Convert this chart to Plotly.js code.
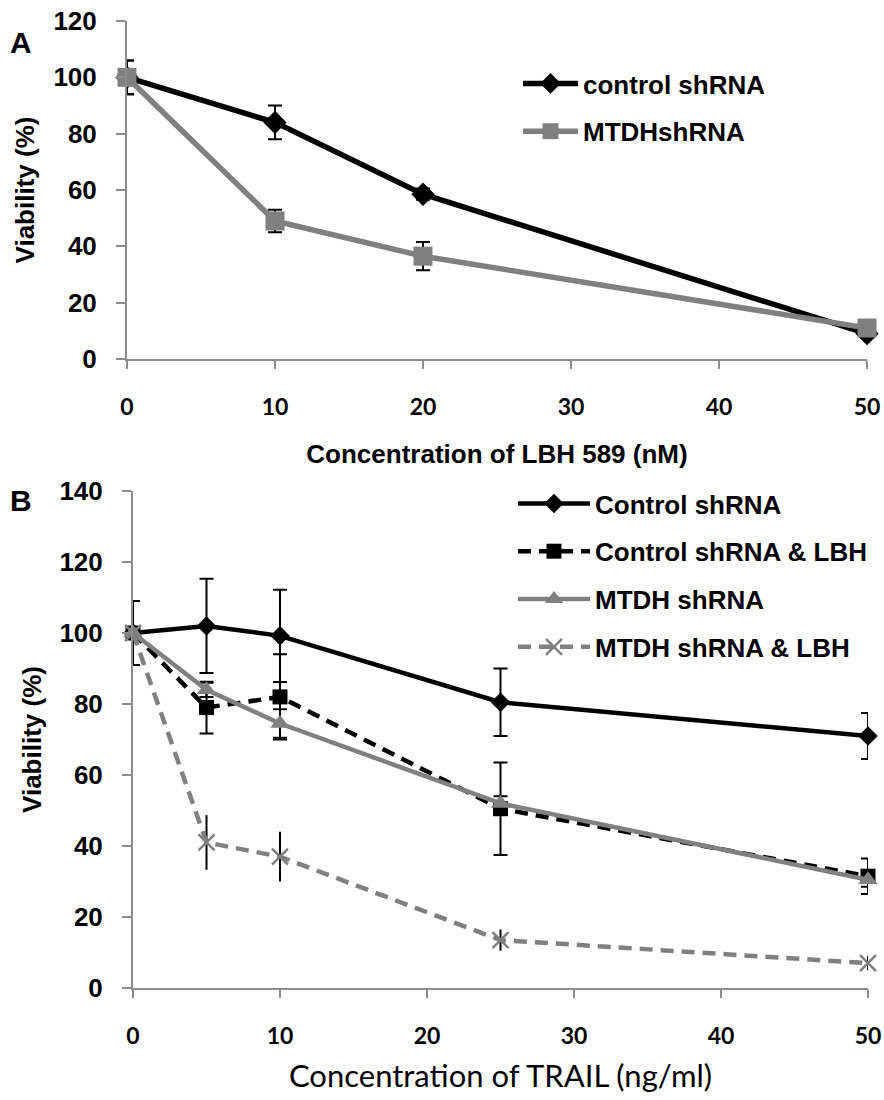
<!DOCTYPE html>
<html>
<head>
<meta charset="utf-8">
<script src="https://cdn.plot.ly/plotly-3.0.1.min.js"></script>
<style>html,body{margin:0;padding:0;background:#fff;}#chart{width:884px;height:1100px;}</style>
</head>
<body>
<div id="chart"></div>
<script>
// Panel A data
const concA = [0, 10, 20, 50];
const ctrlA = [100, 84, 58.5, 9];
const ctrlAErr = [6, 6, 2, 1];
const mtdhA = [100, 49, 36.5, 11];
const mtdhAErr = [6, 4, 5, 1];

// Panel B data
const concB = [0, 5, 10, 25, 50];
const ctrlB = [100, 102, 99.2, 80.5, 71];
const ctrlBErr = [9, 13.3, 13, 9.5, 6.5];
const ctrlLbhB = [100, 79, 82, 50.5, 31.5];
const ctrlLbhBErr = [0, 7.3, 12, 13, 5];
const mtdhB = [100, 84, 74.5, 52, 30.5];
const mtdhBErr = [0, 2, 4, 2, 2];
const mtdhLbhB = [100, 41, 37, 13.5, 7];
const mtdhLbhBErr = [0, 7.7, 7, 3, 2];

const namesA = ['control shRNA', 'MTDHshRNA'];
const namesB = ['Control shRNA', 'Control shRNA &amp; LBH', 'MTDH shRNA', 'MTDH shRNA &amp; LBH'];
const ticksX = [0, 10, 20, 30, 40, 50];
const yticksA = [0, 20, 40, 60, 80, 100, 120];
const yticksB = [0, 20, 40, 60, 80, 100, 120, 140];

const BLACK = '#000000';
const GRAY = '#808080';
const AX = '#8c8c8c';
const ARIAL = 'Liberation Sans, Arial, sans-serif';
const arialB = {family: ARIAL, size: 26, color: '#000', weight: 'bold'};
const latoB = {family: 'Lato, sans-serif', size: 23, color: '#000', weight: 'bold'};

function eb(arr, w) {
  return {type: 'data', array: arr, visible: true, color: BLACK, thickness: 2, width: w};
}

const traces = [
  {x: concA, y: ctrlA, name: namesA[0], mode: 'lines+markers', xaxis: 'x', yaxis: 'y', legend: 'legend', legendgroup: 'a1',
   line: {color: BLACK, width: 5.5}, marker: {symbol: 'diamond', size: 18, color: BLACK}, error_y: eb(ctrlAErr, 7), cliponaxis: false},
  {x: concA, y: mtdhA, name: namesA[1], mode: 'lines+markers', xaxis: 'x', yaxis: 'y', legend: 'legend', legendgroup: 'a2',
   line: {color: GRAY, width: 5.5}, marker: {symbol: 'square', size: 19, color: GRAY}, error_y: eb(mtdhAErr, 7), cliponaxis: false},
  {x: concB, y: ctrlB, name: namesB[0], mode: 'lines+markers', xaxis: 'x2', yaxis: 'y2', legend: 'legend2', legendgroup: 'b1',
   line: {color: BLACK, width: 4.5}, marker: {symbol: 'diamond', size: 15, color: BLACK}, error_y: eb(ctrlBErr, 7), cliponaxis: false},
  {x: concB, y: ctrlLbhB, name: namesB[1], mode: 'lines+markers', xaxis: 'x2', yaxis: 'y2', legend: 'legend2', legendgroup: 'b2',
   line: {color: BLACK, width: 4.5, dash: '13px,8px'}, marker: {symbol: 'square', size: 15, color: BLACK}, error_y: eb(ctrlLbhBErr, 7), cliponaxis: false},
  {x: concB, y: mtdhB, name: namesB[2], mode: 'lines+markers', xaxis: 'x2', yaxis: 'y2', legend: 'legend2', legendgroup: 'b3',
   line: {color: GRAY, width: 4.5}, marker: {symbol: 'triangle-up', size: 17, color: GRAY}, error_y: eb(mtdhBErr, 7), cliponaxis: false},
  {x: concB, y: mtdhLbhB, name: namesB[3], mode: 'lines+markers', xaxis: 'x2', yaxis: 'y2', legend: 'legend2', legendgroup: 'b4',
   line: {color: GRAY, width: 4.5, dash: '13px,8px'}, marker: {symbol: 'x-thin-open', size: 16, color: GRAY, line: {color: GRAY, width: 2.5}}, error_y: eb(mtdhLbhBErr, 0), cliponaxis: false}
];

function xaxisCfg(domain, anchor, title, tfont, standoff) {
  return {domain: domain, anchor: anchor, range: [0, 50], tickvals: ticksX, showgrid: false, zeroline: false,
    showline: true, linecolor: AX, linewidth: 2, ticks: 'outside', ticklen: 8, tickwidth: 2, tickcolor: AX,
    tickfont: latoB, ticklabelstandoff: 18, title: {text: title, font: tfont, standoff: standoff}};
}
function yaxisCfg(domain, anchor, range, tv, standoff) {
  return {domain: domain, anchor: anchor, range: range, tickvals: tv, showgrid: false, zeroline: false,
    showline: true, linecolor: AX, linewidth: 2, ticks: 'outside', ticklen: 9, tickwidth: 2, tickcolor: AX,
    tickfont: arialB, ticklabelstandoff: 14, title: {text: 'Viability (%)', font: {family: ARIAL, size: 26, color: '#000', weight: 'bold'}, standoff: standoff}};
}

const layout = {
  width: 884, height: 1100, paper_bgcolor: '#fff', plot_bgcolor: '#fff',
  margin: {l: 0, r: 0, t: 0, b: 0},
  showlegend: true,
  xaxis: xaxisCfg([127/884, 867/884], 'y', 'Concentration of LBH 589 (nM)', {family: ARIAL, size: 26, color: '#000', weight: 'bold'}, 26),
  yaxis: yaxisCfg([1 - 359/1100, 1 - 21/1100], 'x', [0, 120], yticksA, 11),
  xaxis2: xaxisCfg([133/884, 868/884], 'y2', 'Concentration of TRAIL (ng/ml)', {family: 'Lato, sans-serif', size: 31, color: '#000'}, 18),
  yaxis2: yaxisCfg([1 - 988/1100, 1 - 491/1100], 'x2', [0, 140], yticksB, 10),
  legend: {x: 518/884, y: 1 - 60/1100, xanchor: 'left', yanchor: 'top', bgcolor: 'rgba(0,0,0,0)', font: arialB,
    itemwidth: 55, tracegroupgap: 11, traceorder: 'grouped'},
  legend2: {x: 513/884, y: 1 - 480/1100, xanchor: 'left', yanchor: 'top', bgcolor: 'rgba(0,0,0,0)', font: arialB,
    itemwidth: 72, tracegroupgap: 11, traceorder: 'grouped'},
  annotations: [
    {text: 'A', x: 8/884, y: 1 - 42/1100, xref: 'paper', yref: 'paper', xanchor: 'left', yanchor: 'middle', showarrow: false,
     font: {family: ARIAL, size: 30, color: '#000', weight: 'bold'}},
    {text: 'B', x: 8/884, y: 1 - 500/1100, xref: 'paper', yref: 'paper', xanchor: 'left', yanchor: 'middle', showarrow: false,
     font: {family: ARIAL, size: 30, color: '#000', weight: 'bold'}}
  ]
};

Plotly.newPlot('chart', traces, layout, {displayModeBar: false, staticPlot: true});
</script>
</body>
</html>
